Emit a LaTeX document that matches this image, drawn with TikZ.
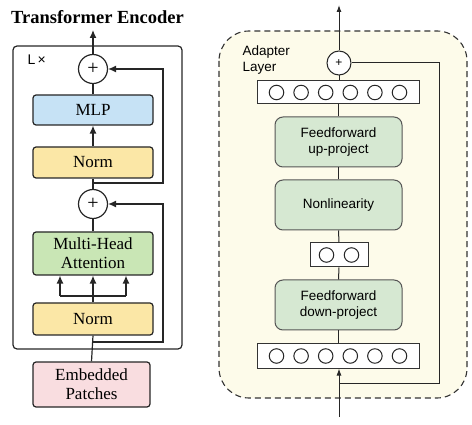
\documentclass[tikz,border=0pt]{standalone}
\usepackage{fontspec}
\setmainfont{Liberation Serif}
\setsansfont{Liberation Sans}
\usetikzlibrary{arrows.meta,calc}
\definecolor{mlpblue}{HTML}{C6E2F5}
\definecolor{normyellow}{HTML}{FBE7A6}
\definecolor{mhagreen}{HTML}{C9E6B5}
\definecolor{embpink}{HTML}{F9DDE0}
\definecolor{adgreen}{HTML}{D6E8D2}
\definecolor{adcream}{HTML}{FDFBEA}
\definecolor{adborder}{HTML}{555555}
\tikzset{
  lbox/.style={draw=black!85, line width=1.2pt, rounded corners=3pt, minimum width=120pt, align=center, inner sep=1pt, font=\fontsize{17}{19}\selectfont},
  lplus/.style={draw=black!85, line width=1.2pt, circle, minimum size=29pt, inner sep=0pt, font=\fontsize{20}{20}\selectfont},
  lline/.style={line width=1.2pt, draw=black!85},
  larr/.style={lline, -{Latex[length=8pt,width=7pt]}},
  abox/.style={draw=adborder, line width=1pt, fill=adgreen, rounded corners=8pt, minimum width=127pt, minimum height=50pt, align=center, font=\fontsize{13.5}{16.5}\sffamily},
  layerbox/.style={draw=black!80, line width=1pt, fill=white, minimum height=22pt, inner sep=0pt},
  unit/.style={draw=black!85, line width=1pt, circle, fill=white, minimum size=14.5pt, inner sep=0pt},
  aline/.style={line width=1pt, draw=black!85},
  aarr/.style={aline, -{Latex[length=7pt,width=5pt]}},
}
\begin{document}
\begin{tikzpicture}[x=1pt,y=-1pt]
\useasboundingbox (0,0) rectangle (472,425);
% ---------------- Left: Transformer Encoder
\node[font=\fontsize{18.5}{20}\selectfont\bfseries] (title) at (97.5,17) {Transformer Encoder};
\draw[lline, rounded corners=4pt] (13,46) rectangle (182,349);
\node[font=\fontsize{14}{15}\sffamily, anchor=west] (lx) at (24,60) {L\,×};
\node[lplus] (p1) at (93,69) {+};
\node[lbox, fill=mlpblue, minimum height=30pt] (mlp) at (93,110) {MLP};
\node[lbox, fill=normyellow, minimum height=31pt] (n1) at (93,162.5) {Norm};
\node[lplus] (p2) at (93,204) {+};
\node[lbox, fill=mhagreen, minimum height=43pt] (mha) at (93,253.5) {Multi-Head\\Attention};
\node[lbox, fill=normyellow, minimum height=32pt] (n2) at (93,319) {Norm};
\node[lbox, fill=embpink, minimum width=117pt, minimum height=45pt] (emb) at (91.5,384.5) {Embedded\\Patches};
\coordinate (out1) at (93,30);
\draw[larr] (p1.north) -- (out1);
\draw[lline] (mlp.north) -- (p1.south);
\draw[larr] (n1.north) -- (mlp.south);
\draw[lline] (p2.north) -- (n1.south);
\draw[lline] (mha.north) -- (p2.south);
% residual 1
\coordinate (b1) at (93,183);
\coordinate (c1a) at (163,183);
\coordinate (c1b) at (163,69);
\draw[larr] (b1) -- (c1a) -- (c1b) -- (p1.east);
% residual 2
\coordinate (b2) at (93,342);
\coordinate (c2a) at (163,342);
\coordinate (c2b) at (163,204);
\draw[larr] (b2) -- (c2a) -- (c2b) -- (p2.east);
% qkv split
\coordinate (bar) at (93,296);
\coordinate (barl) at (60,296);
\coordinate (barr) at (126,296);
\draw[lline] (n2.north) -- (bar);
\draw[lline] (barl) -- (barr);
\draw[larr] (barl) -- (barl |- mha.south);
\draw[larr] (bar) -- (mha.south);
\draw[larr] (barr) -- (barr |- mha.south);
\draw[lline] (emb.north) -- (n2.south);
% ---------------- Right: Adapter Layer
\draw[dashed, dash pattern=on 6pt off 4pt, line width=1.1pt, draw=black!80, fill=adcream, rounded corners=30pt] (219,31) rectangle (467,398);
\node[font=\fontsize{13.5}{16}\sffamily, align=left, anchor=west] (adl) at (239,60) {Adapter\\Layer};
\node[aline, circle, draw, fill=white, minimum size=24pt, inner sep=0pt, font=\fontsize{12}{12}\sffamily] (ap) at (339,63) {+};
\node[layerbox, minimum width=162pt, minimum height=23pt] (top) at (338,92.5) {};
\foreach \i/\dx in {1/-61.5,2/-36.9,3/-12.3,4/12.3,5/36.9,6/61.5}
  \node[unit] (t\i) at ($(top.center)+(\dx,0)$) {};
\node[abox] (up) at (338.5,142) {Feedforward\\up-project};
\node[abox] (nl) at (338.5,205) {Nonlinearity};
\node[layerbox, minimum width=58pt, minimum height=24pt] (mid) at (339,255) {};
\foreach \i/\dx in {1/-12.5,2/12.5}
  \node[unit] (m\i) at ($(mid.center)+(\dx,0)$) {};
\node[abox] (down) at (338.5,305) {Feedforward\\down-project};
\node[layerbox, minimum width=162pt, minimum height=24pt] (bot) at (338,356) {};
\foreach \i/\dx in {1/-61.5,2/-36.9,3/-12.3,4/12.3,5/36.9,6/61.5}
  \node[unit] (d\i) at ($(bot.center)+(\dx,0)$) {};
\coordinate (aout) at (339,5);
\coordinate (ain) at (339,417);
\draw[aarr] (ap.north) -- (aout);
\draw[aline] (top.north -| ap) -- (ap.south);
\draw[aline] (up.north) -- (up.north |- top.south);
\draw[aline] (nl.north) -- (up.south);
\draw[aline] (mid.north) -- (nl.south);
\draw[aline] (down.north) -- (mid.south);
\draw[aline] (bot.north -| down) -- (down.south);
\draw[aarr] (ain) -- (ain |- bot.south);
\coordinate (ab) at (339,383);
\coordinate (ar1) at (439,383);
\coordinate (ar2) at (439,63);
\draw[aline] (ab) -- (ar1) -- (ar2) -- (ap.east);
\end{tikzpicture}
\end{document}
